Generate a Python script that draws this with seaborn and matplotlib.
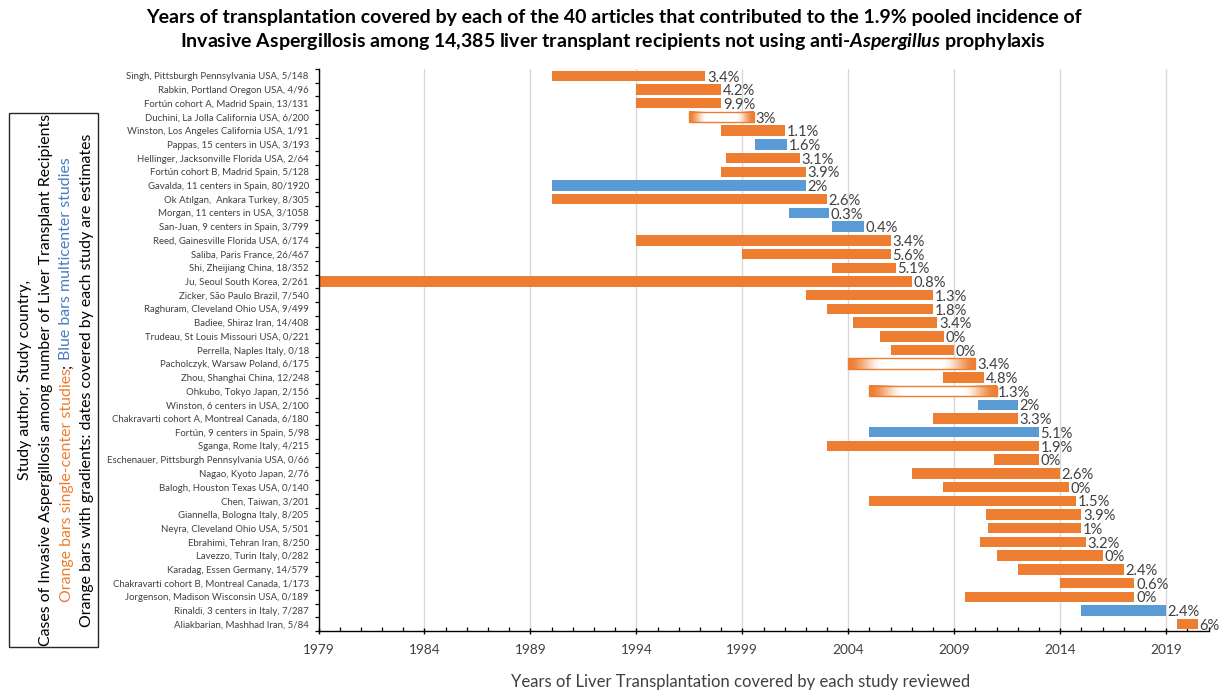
import numpy as np
import pandas as pd
import matplotlib
matplotlib.use("Agg")
import matplotlib.pyplot as plt
import seaborn as sns
from matplotlib.patches import Rectangle

# ---------------------------------------------------------------- data
studies = [
    "Singh, Pittsburgh Pennsylvania USA, 5/148",
    "Rabkin, Portland Oregon USA, 4/96",
    "Fortún cohort A, Madrid Spain, 13/131",
    "Duchini, La Jolla California USA, 6/200",
    "Winston, Los Angeles California USA, 1/91",
    "Pappas, 15 centers in USA, 3/193",
    "Hellinger, Jacksonville Florida USA, 2/64",
    "Fortún cohort B, Madrid Spain, 5/128",
    "Gavalda, 11 centers in Spain, 80/1920",
    "Ok Atılgan,  Ankara Turkey, 8/305",
    "Morgan, 11 centers in USA, 3/1058",
    "San-Juan, 9 centers in Spain, 3/799",
    "Reed, Gainesville Florida USA, 6/174",
    "Saliba, Paris France, 26/467",
    "Shi, Zheijiang China, 18/352",
    "Ju, Seoul South Korea, 2/261",
    "Zicker, São Paulo Brazil, 7/540",
    "Raghuram, Cleveland Ohio USA, 9/499",
    "Badiee, Shiraz Iran, 14/408",
    "Trudeau, St Louis Missouri USA, 0/221",
    "Perrella, Naples Italy, 0/18",
    "Pacholczyk, Warsaw Poland, 6/175",
    "Zhou, Shanghai China, 12/248",
    "Ohkubo, Tokyo Japan, 2/156",
    "Winston, 6 centers in USA, 2/100",
    "Chakravarti cohort A, Montreal Canada, 6/180",
    "Fortún, 9 centers in Spain, 5/98",
    "Sganga, Rome Italy, 4/215",
    "Eschenauer, Pittsburgh Pennsylvania USA, 0/66",
    "Nagao, Kyoto Japan, 2/76",
    "Balogh, Houston Texas USA, 0/140",
    "Chen, Taiwan, 3/201",
    "Giannella, Bologna Italy, 8/205",
    "Neyra, Cleveland Ohio USA, 5/501",
    "Ebrahimi, Tehran Iran, 8/250",
    "Lavezzo, Turin Italy, 0/282",
    "Karadag, Essen Germany, 14/579",
    "Chakravarti cohort B, Montreal Canada, 1/173",
    "Jorgenson, Madison Wisconsin USA, 0/189",
    "Rinaldi, 3 centers in Italy, 7/287",
    "Aliakbarian, Mashhad Iran, 5/84",
]

start_year = [
    1990.0, 1994.0, 1994.0, 1996.5, 1998.0, 1999.6, 1998.25, 1998.0, 1990.0, 1990.0,
    2001.2, 2003.25, 1994.0, 1999.0, 2003.25, 1979.0, 2002.0, 2003.0, 2004.2, 2005.5,
    2006.0, 2004.0, 2008.45, 2005.0, 2010.1, 2008.0, 2005.0, 2003.0, 2010.9, 2007.0,
    2008.45, 2005.0, 2010.5, 2010.6, 2010.2, 2011.0, 2012.0, 2014.0, 2009.5, 2015.0,
    2019.5,
]

end_year = [
    1997.25, 1998.0, 1998.0, 1999.55, 2001.0, 2001.1, 2001.7, 2002.0, 2002.0, 2003.0,
    2003.1, 2004.75, 2006.0, 2006.0, 2006.25, 2007.0, 2008.0, 2008.0, 2008.2, 2008.5,
    2009.0, 2010.0, 2010.4, 2011.0, 2012.0, 2012.0, 2013.0, 2013.0, 2013.0, 2014.0,
    2014.4, 2014.75, 2015.0, 2015.0, 2015.2, 2016.0, 2017.0, 2017.5, 2017.5, 2019.0,
    2020.5,
]

incidence_pct = [
    3.4, 4.2, 9.9, 3, 1.1, 1.6, 3.1, 3.9, 2, 2.6,
    0.3, 0.4, 3.4, 5.6, 5.1, 0.8, 1.3, 1.8, 3.4, 0,
    0, 3.4, 4.8, 1.3, 2, 3.3, 5.1, 1.9, 0, 2.6,
    0, 1.5, 3.9, 1, 3.2, 0, 2.4, 0.6, 0, 2.4,
    6,
]

# single = single-center study, multi = multicenter study,
# estimate = single-center study whose covered dates are estimated
design = [
    "single", "single", "single", "estimate", "single", "multi", "single", "single", "multi", "single",
    "multi", "multi", "single", "single", "single", "single", "single", "single", "single", "single",
    "single", "estimate", "single", "estimate", "multi", "single", "multi", "single", "single", "single",
    "single", "single", "single", "single", "single", "single", "single", "single", "single", "multi",
    "single",
]

major_years = list(range(1979, 2020, 5))

# ---------------------------------------------------------------- style
ORANGE = "#ED7D31"
BLUE = "#5B9BD5"
BLUE_TEXT = "#4A7CC4"
bar_colors = {"single": ORANGE, "multi": BLUE, "estimate": ORANGE}

sns.set_theme(style="white")
plt.rcParams["font.family"] = ["Lato", "DejaVu Sans"]
plt.rcParams["mathtext.fontset"] = "custom"
plt.rcParams["mathtext.rm"] = "Lato:bold"
plt.rcParams["mathtext.it"] = "Lato:italic:bold"
plt.rcParams["mathtext.bf"] = "Lato:bold"

W, H = 1226, 693
fig = plt.figure(figsize=(W / 100, H / 100), dpi=100)


def fx(px):
    return px / W


def fy(py):
    return 1 - py / H


ax = fig.add_axes([fx(318.5), fy(631), fx(1208.5) - fx(318.5), fy(69) - fy(631)])

df = pd.DataFrame({
    "study": studies,
    "start": start_year,
    "end": end_year,
    "pct": incidence_pct,
    "design": design,
})

sns.barplot(data=df, x="end", y="study", orient="y", color=ORANGE, width=0.76,
            errorbar=None, saturation=1, ax=ax)

# Turn each bar into a span from the first to the last year covered
t = np.linspace(0, 1, 256)
ramp = np.clip(np.minimum(t, 1 - t) / 0.27, 0, 1)
ramp = ramp * ramp * (3 - 2 * ramp)
rgb_orange = np.array(matplotlib.colors.to_rgb(ORANGE))
gradient = (rgb_orange[None, :] * (1 - ramp[:, None]) + ramp[:, None])[None, :, :]

for patch, s, e, kind in zip(ax.patches, df["start"], df["end"], df["design"]):
    patch.set_x(s)
    patch.set_width(e - s)
    patch.set_facecolor(bar_colors[kind])
    patch.set_edgecolor("none")
    patch.set_zorder(2)
    if kind == "estimate":
        y0, h = patch.get_y(), patch.get_height()
        patch.set_facecolor("none")
        patch.set_edgecolor(ORANGE)
        patch.set_linewidth(1.0)
        patch.set_zorder(3)
        ax.imshow(gradient, extent=(s, e, y0 + h, y0), aspect="auto",
                  interpolation="bilinear", zorder=2)

# Incidence labels at the right end of each bar
for patch, p in zip(ax.patches, df["pct"]):
    yc = patch.get_y() + patch.get_height() / 2
    xe = patch.get_x() + patch.get_width()
    ax.annotate(f"{p:g}%", xy=(xe, yc), xytext=(1.2, -1.2), textcoords="offset points",
                ha="left", va="center", fontsize=10.6, color="#404040",
                annotation_clip=False)

# ---------------------------------------------------------------- axes
n = len(df)
ax.set_xlim(1979, 2021)
ax.set_ylim(n - 0.5, -0.5)
ax.set_xticks(major_years)
ax.set_xticks(np.arange(1979, 2022, 1), minor=True)
ax.set_yticks(np.arange(-0.5, n, 1), minor=True)

ax.tick_params(axis="x", which="major", bottom=True, direction="inout", length=5,
               width=1, color="black", labelsize=9.8, labelcolor="#404040", pad=7)
ax.tick_params(axis="x", which="minor", bottom=True, direction="in", length=3,
               width=0.9, color="black")
ax.tick_params(axis="y", which="major", left=False, length=0, labelsize=6.9,
               labelcolor="#404040", pad=7)
ax.tick_params(axis="y", which="minor", left=True, direction="out", length=3,
               width=0.9, color="black")

ax.grid(axis="x", which="major", color="#D9D9D9", linewidth=1)
ax.grid(axis="y", visible=False)
ax.set_axisbelow(True)
sns.despine(ax=ax)
for side in ("left", "bottom"):
    ax.spines[side].set_color("black")
    ax.spines[side].set_linewidth(1)

ax.set_ylabel("")
ax.set_xlabel("Years of Liver Transplantation covered by each study reviewed",
              fontsize=12, color="#404040")
ax.xaxis.set_label_coords((741 - 318.5) / 890, -(682 - 631) / 562)
ax.xaxis.label.set_va("center")

# ---------------------------------------------------------------- title
fig.text(0.501, fy(17), "Years of transplantation covered by each of the 40 articles that "
         "contributed to the 1.9% pooled incidence of",
         ha="center", va="center", fontsize=14, fontweight="bold", color="black")
fig.text(0.5, fy(42), r"Invasive Aspergillosis among 14,385 liver transplant recipients "
         r"not using anti-$\mathit{Aspergillus}$ prophylaxis",
         ha="center", va="center", fontsize=14, fontweight="bold", color="black")

# ---------------------------------------------------------------- boxed axis title
fig.patches.append(Rectangle((fx(9), fy(647)), fx(98) - fx(9), fy(113) - fy(647),
                             transform=fig.transFigure, fill=False,
                             edgecolor="#262626", linewidth=1))

box_fs = 11.4
yc_box = 380
fig.text(fx(29), fy(yc_box), "Study author, Study country,", rotation=90,
         rotation_mode="anchor", ha="center", va="baseline", fontsize=box_fs, color="black")
fig.text(fx(50), fy(yc_box),
         "Cases of Invasive Aspergillosis among number of Liver Transplant Recipients",
         rotation=90, rotation_mode="anchor", ha="center", va="baseline",
         fontsize=box_fs, color="black")
fig.text(fx(91), fy(yc_box),
         "Orange bars with gradients: dates covered by each study are estimates",
         rotation=90, rotation_mode="anchor", ha="center", va="baseline",
         fontsize=box_fs, color="black")

pieces = [("Orange bars single-center studies", ORANGE, 0.6),
          (";", "black", 3.5),
          ("Blue bars multicenter studies", BLUE_TEXT, 0.0)]
texts = [fig.text(fx(70.5), fy(yc_box), s, rotation=90, rotation_mode="anchor",
                  ha="left", va="baseline", fontsize=box_fs, color=c)
         for s, c, _ in pieces]
renderer = fig.canvas.get_renderer()
lengths = [tx.get_window_extent(renderer).height for tx in texts]
gaps = [g for _, _, g in pieces]
total = sum(lengths) + sum(gaps[:-1])
y_px = (H - yc_box) - total / 2
for tx, L, g in zip(texts, lengths, gaps):
    tx.set_y(y_px / H)
    y_px += L + g

fig.savefig("out.png", dpi=100)
